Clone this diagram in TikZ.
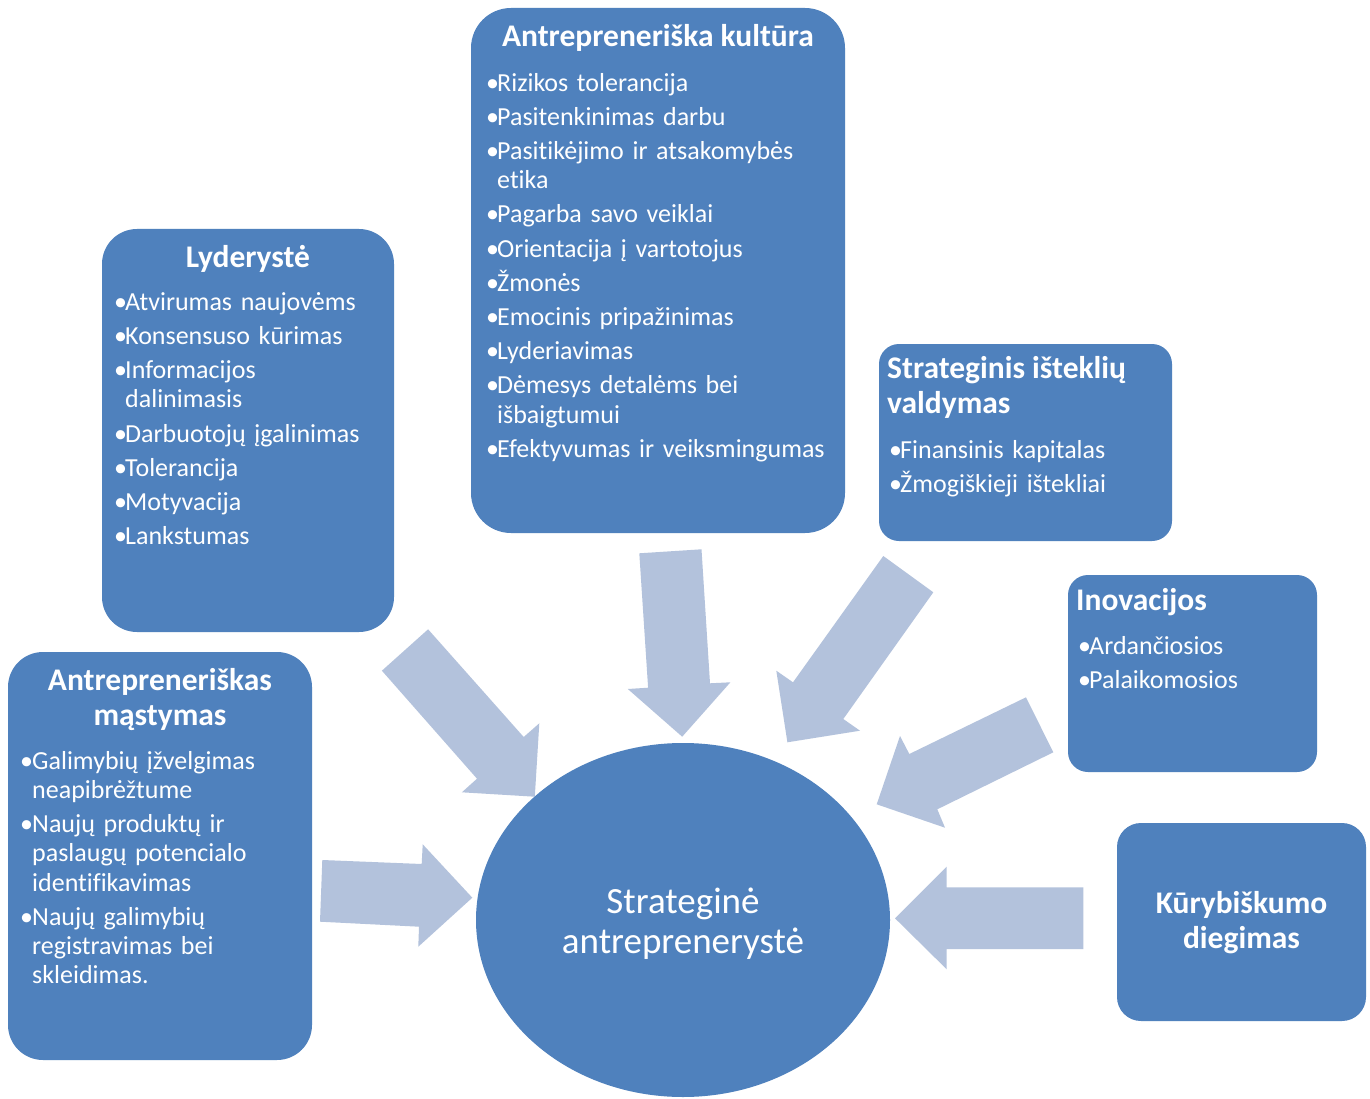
\documentclass[tikz,border=0pt]{standalone}
\usepackage{fontspec}
\setmainfont{Carlito}[Ligatures=CommonOff]
\usetikzlibrary{shapes.geometric}

\definecolor{panelblue}{HTML}{4F81BD}
\definecolor{flowblue}{HTML}{B3C2DC}

% bullet list helpers: hanging indent under the bullet
\newlength\bulletw
\setlength\bulletw{11pt}
\newcommand\topstrut[1]{\rule{0pt}{#1}}
\newcommand\bitem[1]{\noindent\hangindent=\bulletw\hangafter=1\makebox[\bulletw][l]{•}#1\par\vspace{5pt}}

\tikzset{
  panel/.style={fill=panelblue, draw=none, rounded corners=#1, inner sep=0pt},
  panel/.default=35pt,
  heading/.style={text=white, inner sep=0pt,
    font=\fontsize{31.5}{35}\selectfont\bfseries},
  bullets/.style={text=white, inner sep=0pt, anchor=north west,
    text width=#1, align=left, font=\fontsize{26}{29.2}\selectfont},
  flow/.style={fill=flowblue, draw=none},
}

\begin{document}
\begin{tikzpicture}[x=1pt, y=-1pt]
\useasboundingbox (0,0) rectangle (1370,1099);
\fill[white] (0,0) rectangle (1370,1099);

% block arrows pointing to the core
\fill[flow] (381.9,670.7) -- (428.1,629.3) -- (523.7,737) -- (539.3,723.3) -- (534.8,796.7) -- (461.9,792.3) -- (477,778.7) -- cycle;
\fill[flow] (639.3,553.3) -- (701.5,549.3) -- (710,683.3) -- (730.4,682.3) -- (682.2,736.7) -- (627.8,689) -- (648.1,687.7) -- cycle;
\fill[flow] (883.3,556) -- (933.3,592.3) -- (843.3,719) -- (860,730.7) -- (787.4,742.3) -- (776.3,670.7) -- (793,682.3) -- cycle;
\fill[flow] (1026,697.3) -- (1053.3,752.3) -- (937.3,809.3) -- (945,827.7) -- (876.7,804.3) -- (900,736) -- (909.3,754) -- cycle;
\fill[flow] (322.3,860) -- (421.7,864) -- (422.7,844.3) -- (472.3,897.7) -- (418.3,946.7) -- (419,926.7) -- (320,921.7) -- cycle;
\fill[flow] (1083.3,887.3) -- (946.7,887.3) -- (946.7,866.7) -- (895,918.3) -- (946.7,969.3) -- (946.7,949) -- (1083.3,949) -- cycle;

% panels
\node[panel=40pt, minimum width=374pt, minimum height=525pt] (cult) at (658,270.5) {};
\node[panel=35pt, minimum width=292pt, minimum height=403pt] (lead) at (248,430.5) {};
\node[panel=35pt, minimum width=304pt, minimum height=408pt] (mind) at (160,856) {};
\node[panel=20pt, minimum width=293pt, minimum height=197pt] (res) at (1025.5,442.5) {};
\node[panel=20pt, minimum width=249pt, minimum height=197pt] (inn) at (1192.5,673.5) {};
\node[panel=24pt, minimum width=249pt, minimum height=198pt] (cre) at (1241.5,922) {};
\node[ellipse, fill=panelblue, inner sep=0pt, minimum width=414pt, minimum height=354pt] (core) at (683,920) {};

% headings (first baseline sits 36pt below the node's top)
\node[heading, anchor=north] (cultT) at (658,10) {\topstrut{36pt}Antrepreneriška kultūra};
\node[heading, anchor=north] (leadT) at (248,231) {\topstrut{36pt}Lyderystė};
\node[heading, anchor=north, align=center] (mindT) at (160,654) {\topstrut{36pt}Antrepreneriškas\\mąstymas};
\node[heading, anchor=north west, align=left] (resT) at (887,342) {\topstrut{36pt}Strateginis išteklių\\valdymas};
\node[heading, anchor=north west] (innT) at (1076,574) {\topstrut{36pt}Inovacijos};
\node[heading, anchor=north, align=center] (creT) at (1241.5,877) {\topstrut{36pt}Kūrybiškumo\\diegimas};

% bullet lists (first baseline sits 30pt below the node's top)
\node[bullets=400pt] (cultL) at (486,61) {%
\bitem{\topstrut{30pt}Rizikos tolerancija}
\bitem{Pasitenkinimas darbu}
\bitem{Pasitikėjimo ir atsakomybės\newline etika}
\bitem{Pagarba savo veiklai}
\bitem{Orientacija į vartotojus}
\bitem{Žmonės}
\bitem{Emocinis pripažinimas}
\bitem{Lyderiavimas}
\bitem{Dėmesys detalėms bei\newline išbaigtumui}
\bitem{Efektyvumas ir veiksmingumas}};

\node[bullets=320pt] (leadL) at (114,280) {%
\bitem{\topstrut{30pt}Atvirumas naujovėms}
\bitem{Konsensuso kūrimas}
\bitem{Informacijos\newline dalinimasis}
\bitem{Darbuotojų įgalinimas}
\bitem{Tolerancija}
\bitem{Motyvacija}
\bitem{Lankstumas}};

\node[bullets=320pt] (mindL) at (20,739) {%
\setlength\bulletw{12pt}%
\bitem{\topstrut{30pt}Galimybių įžvelgimas\newline neapibrėžtume}
\bitem{Naujų produktų ir\newline paslaugų potencialo\newline identifikavimas}
\bitem{Naujų galimybių\newline registravimas bei\newline skleidimas.}};

\node[bullets=320pt] (resL) at (889,428) {%
\bitem{\topstrut{30pt}Finansinis kapitalas}
\bitem{Žmogiškieji ištekliai}};

\node[bullets=260pt] (innL) at (1078,624) {%
\bitem{\topstrut{30pt}Ardančiosios}
\bitem{Palaikomosios}};

% core label
\node[text=white, inner sep=0pt, align=center, anchor=north,
      font=\fontsize{37}{40}\selectfont] (coreT) at (683,873) {\topstrut{40pt}Strateginė\\antreprenerystė};
\end{tikzpicture}
\end{document}
